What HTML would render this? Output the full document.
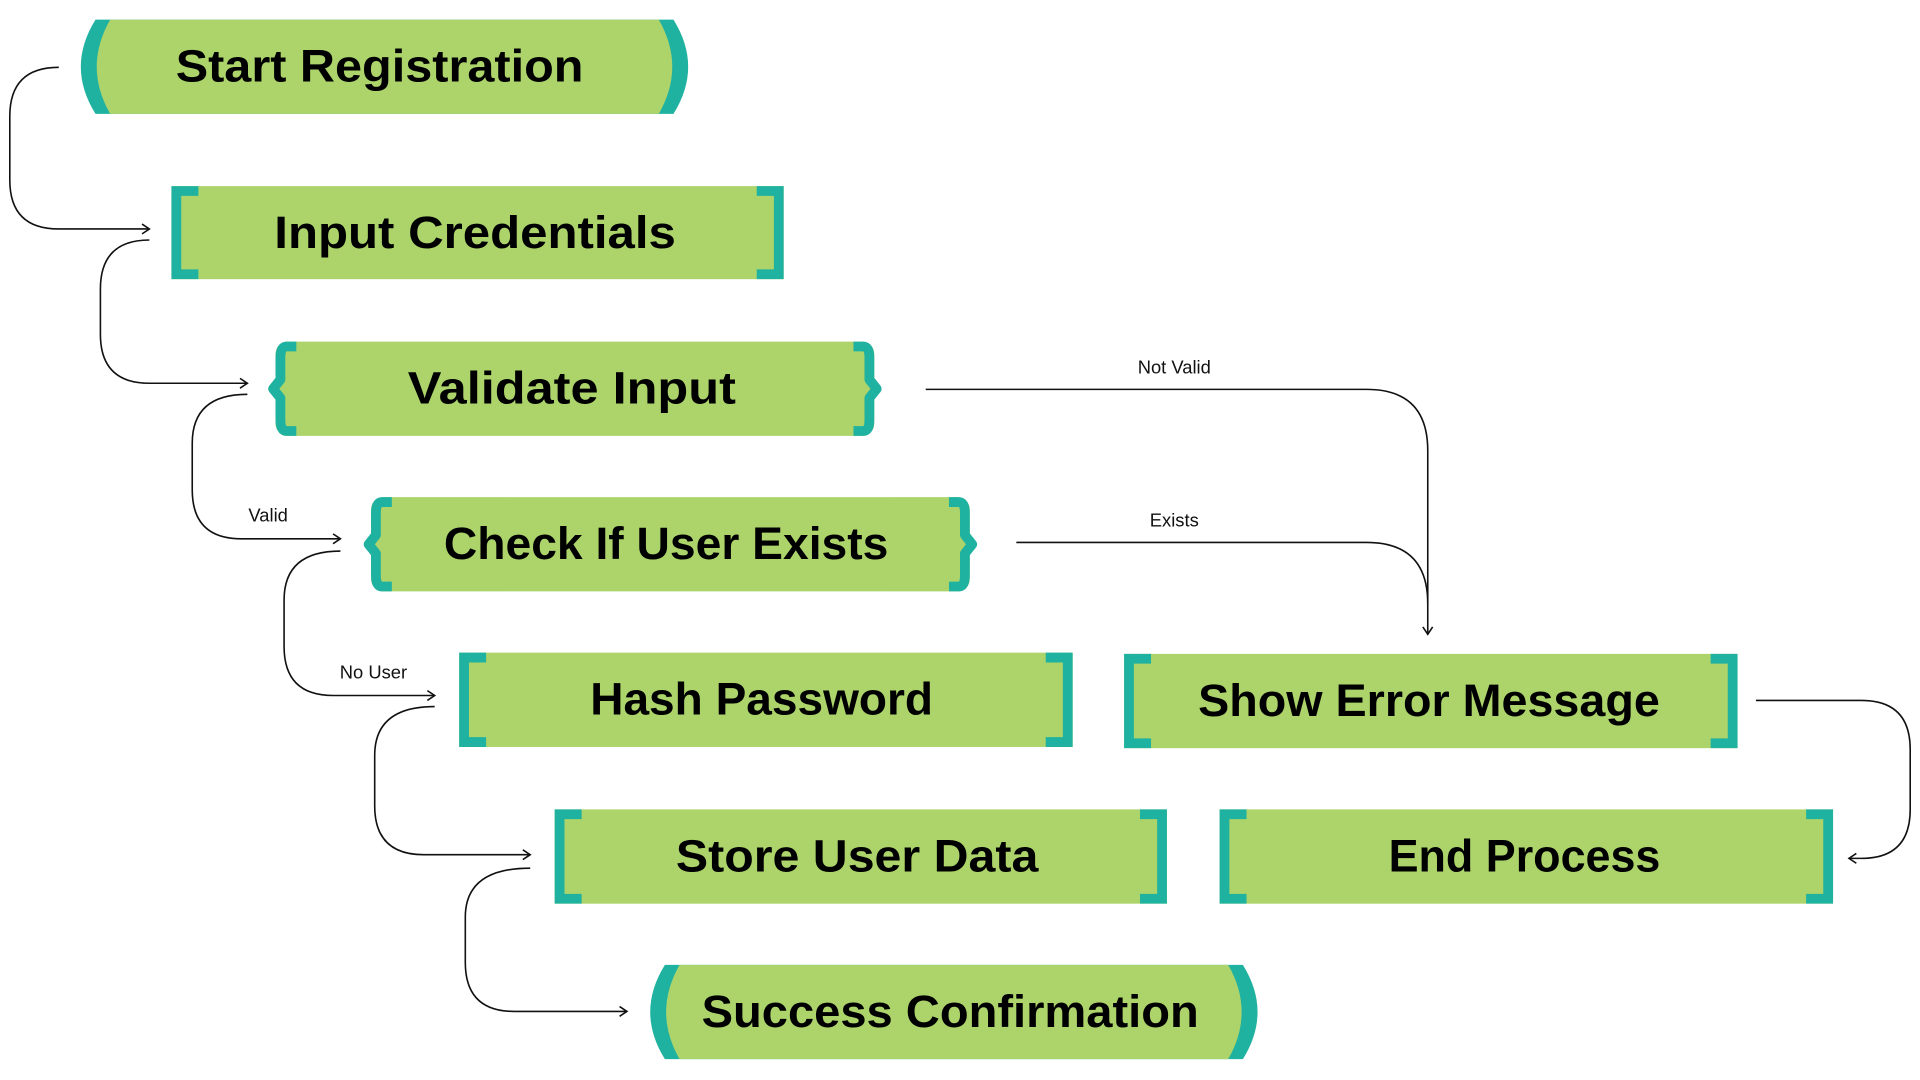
<!DOCTYPE html>
<html><head><meta charset="utf-8"><style>
html,body{margin:0;padding:0;background:#fff;width:1920px;height:1080px;overflow:hidden}
svg{display:block}
.t{font-family:"Liberation Sans",sans-serif;font-weight:bold;font-size:37px;fill:#000;text-anchor:middle;dominant-baseline:central}
.l{font-family:"Liberation Sans",sans-serif;font-size:15px;fill:#111;text-anchor:middle}
.c{fill:none;stroke:#111;stroke-width:1.3}
</style></head><body>
<svg width="1920" height="1080" viewBox="0 0 1568 882" preserveAspectRatio="none">
<defs>
<marker id="a" markerWidth="10" markerHeight="10" refX="8" refY="5" orient="auto" markerUnits="userSpaceOnUse">
<path d="M2 1 L8 5 L2 9" fill="none" stroke="#111" stroke-width="1.3"/>
</marker>
</defs>
<g fill="#acd46a">
<path d="M78 16 H550 Q574 54.5 550 93 H78 Q54 54.5 78 16 Z" fill="#20b2a0"/>
<path d="M90 16 H538 Q560 54.5 538 93 H90 Q68 54.5 90 16 Z"/>
<path d="M543 788 H1015 Q1039 826.5 1015 865 H543 Q519 826.5 543 788 Z" fill="#20b2a0"/>
<path d="M555 788 H1003 Q1025 826.5 1003 865 H555 Q533 826.5 555 788 Z"/>
<rect x="140" y="152" width="500" height="76"/>
<rect x="375" y="533" width="501" height="77"/>
<rect x="918" y="534" width="501" height="77"/>
<rect x="453" y="661" width="500" height="77"/>
<rect x="996" y="661" width="501" height="77"/>
<rect x="225" y="279" width="489" height="77" rx="10"/>
<rect x="303" y="406" width="489" height="77" rx="10"/>
</g>
<g fill="#20b2a0">
<path d="M140 152 h22 v8 h-14 v60 h14 v8 h-22 Z M640 152 h-22 v8 h14 v60 h-14 v8 h22 Z"/>
<path d="M375 533 h22 v8 h-14 v61 h14 v8 h-22 Z M876 533 h-22 v8 h14 v61 h-14 v8 h22 Z"/>
<path d="M918 534 h22 v8 h-14 v61 h14 v8 h-22 Z M1419 534 h-22 v8 h14 v61 h-14 v8 h22 Z"/>
<path d="M453 661 h22 v8 h-14 v61 h14 v8 h-22 Z M953 661 h-22 v8 h14 v61 h-14 v8 h22 Z"/>
<path d="M996 661 h22 v8 h-14 v61 h14 v8 h-22 Z M1497 661 h-22 v8 h14 v61 h-14 v8 h22 Z"/>
</g>
<g fill="none" stroke="#20b2a0" stroke-width="8" stroke-linejoin="round">
<path d="M242 283 H234 Q229 283 229 292 V310 L223 317.5 L229 325 V343 Q229 352 234 352 H242"/>
<path d="M697 283 H705 Q710 283 710 292 V310 L716 317.5 L710 325 V343 Q710 352 705 352 H697"/>
<path d="M320 410 H312 Q307 410 307 419 V437 L301 444.5 L307 452 V470 Q307 479 312 479 H320"/>
<path d="M775 410 H783 Q788 410 788 419 V437 L794 444.5 L788 452 V470 Q788 479 783 479 H775"/>
</g>
<text class="t" x="310" y="54" textLength="333" lengthAdjust="spacingAndGlyphs">Start Registration</text>
<text class="t" x="388" y="190" textLength="328" lengthAdjust="spacingAndGlyphs">Input Credentials</text>
<text class="t" x="467" y="317" textLength="268" lengthAdjust="spacingAndGlyphs">Validate Input</text>
<text class="t" x="544" y="444" textLength="363" lengthAdjust="spacingAndGlyphs">Check If User Exists</text>
<text class="t" x="622" y="571" textLength="280" lengthAdjust="spacingAndGlyphs">Hash Password</text>
<text class="t" x="1167" y="572" textLength="377" lengthAdjust="spacingAndGlyphs">Show Error Message</text>
<text class="t" x="700" y="699" textLength="296" lengthAdjust="spacingAndGlyphs">Store User Data</text>
<text class="t" x="1245" y="699" textLength="222" lengthAdjust="spacingAndGlyphs">End Process</text>
<text class="t" x="776" y="826" textLength="406" lengthAdjust="spacingAndGlyphs">Success Confirmation</text>
<path class="c" d="M48 55 Q8 55 8 95 V147 Q8 187 48 187 H122" marker-end="url(#a)"/>
<path class="c" d="M122 196 Q82 196 82 236 V273 Q82 313 122 313 H202" marker-end="url(#a)"/>
<path class="c" d="M202 322 Q157 322 157 362 V400 Q157 440 197 440 H278" marker-end="url(#a)"/>
<path class="c" d="M278 450 Q232 450 232 490 V528 Q232 568 272 568 H355" marker-end="url(#a)"/>
<path class="c" d="M355 577 Q306 577 306 617 V658 Q306 698 346 698 H433" marker-end="url(#a)"/>
<path class="c" d="M433 709 Q380 709 380 749 V786 Q380 826 420 826 H512" marker-end="url(#a)"/>
<path class="c" d="M756 318 H1116 Q1166 318 1166 368 V518" marker-end="url(#a)"/>
<path class="c" d="M830 443 H1116 Q1166 443 1166 493"/>
<path class="c" d="M1434 572 H1520 Q1560 572 1560 612 V661 Q1560 701 1520 701 H1510" marker-end="url(#a)"/>
<text class="l" x="959" y="305">Not Valid</text>
<text class="l" x="959" y="430">Exists</text>
<text class="l" x="219" y="426">Valid</text>
<text class="l" x="305" y="554">No User</text>
</svg>
</body></html>
